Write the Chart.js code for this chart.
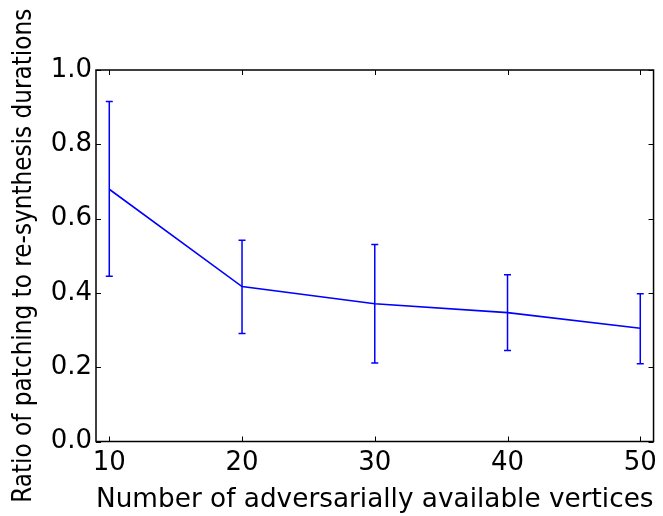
<!DOCTYPE html>
<html>
<head>
<meta charset="utf-8">
<script src="https://cdn.jsdelivr.net/npm/chart.js@4"></script>
<style>
  html, body { margin: 0; padding: 0; background: #fff; }
  #wrap { width: 663px; height: 516px; }
</style>
</head>
<body>
<div id="wrap"><canvas id="c" width="663" height="516"></canvas></div>
<script>
// Adversarially available vertices vs. patching/re-synthesis duration ratio
const vertices = [10, 20, 30, 40, 50];
const ratio = [0.679, 0.417, 0.371, 0.347, 0.305];
const errLow = [0.445, 0.291, 0.211, 0.245, 0.209];
const errHigh = [0.915, 0.542, 0.530, 0.449, 0.398];
const xTicks = [10, 20, 30, 40, 50];
const yTicks = [0.0, 0.2, 0.4, 0.6, 0.8, 1.0];

const BLUE = '#0000ff';
const FONT = 'DejaVu Sans';

// Error bars with caps
const errorBars = {
  id: 'errorBars',
  afterDatasetsDraw(chart) {
    const { ctx, scales: { x, y } } = chart;
    ctx.save();
    ctx.strokeStyle = BLUE;
    ctx.lineWidth = 1.5;
    vertices.forEach((v, i) => {
      const px = x.getPixelForValue(v);
      const top = y.getPixelForValue(errHigh[i]);
      const bot = y.getPixelForValue(errLow[i]);
      ctx.beginPath();
      ctx.moveTo(px, top); ctx.lineTo(px, bot);
      ctx.moveTo(px - 3.5, top); ctx.lineTo(px + 3.5, top);
      ctx.moveTo(px - 3.5, bot); ctx.lineTo(px + 3.5, bot);
      ctx.stroke();
    });
    ctx.restore();
  }
};

// Frame and inward tick marks on all four sides
const frame = {
  id: 'frame',
  afterDraw(chart) {
    const { ctx, chartArea: a, scales: { x, y } } = chart;
    const len = 5;
    ctx.save();
    ctx.strokeStyle = '#000';
    ctx.lineWidth = 1;
    ctx.beginPath();
    x.ticks.forEach(t => {
      const px = Math.round(x.getPixelForValue(t.value)) + 0.5;
      ctx.moveTo(px, a.bottom); ctx.lineTo(px, a.bottom - len);
      ctx.moveTo(px, a.top); ctx.lineTo(px, a.top + len);
    });
    y.ticks.forEach(t => {
      const py = Math.round(y.getPixelForValue(t.value)) + 0.5;
      ctx.moveTo(a.left, py); ctx.lineTo(a.left + len, py);
      ctx.moveTo(a.right, py); ctx.lineTo(a.right - len, py);
    });
    ctx.stroke();
    ctx.lineWidth = 1.5;
    ctx.strokeRect(a.left, a.top, a.right - a.left, a.bottom - a.top);
    ctx.restore();
  }
};

new Chart(document.getElementById('c'), {
  type: 'line',
  data: {
    datasets: [{
      data: vertices.map((v, i) => ({ x: v, y: ratio[i] })),
      borderColor: BLUE,
      borderWidth: 1.6,
      pointRadius: 0,
      fill: false,
      tension: 0
    }]
  },
  options: {
    responsive: false,
    animation: false,
    layout: { padding: { top: 70, right: 8, left: 0, bottom: 0 } },
    plugins: { legend: { display: false }, tooltip: { enabled: false } },
    scales: {
      x: {
        type: 'linear',
        min: 9, max: 51,
        afterBuildTicks: s => { s.ticks = xTicks.map(v => ({ value: v })); },
        afterFit: s => { s.height = 74.5; },
        grid: { display: false, drawTicks: false },
        border: { display: false },
        ticks: {
          color: '#000', padding: 6,
          font: { family: FONT, size: 26 },
          maxRotation: 0,
          callback: v => String(v)
        },
        title: {
          display: true,
          text: 'Number of adversarially available vertices',
          color: '#000',
          font: { family: FONT, size: 27.2 },
          padding: { top: 0, bottom: 0 }
        }
      },
      y: {
        min: 0, max: 1,
        afterBuildTicks: s => { s.ticks = yTicks.map(v => ({ value: v })); },
        afterFit: s => { s.width = 96; },
        grid: { display: false, drawTicks: false },
        border: { display: false },
        ticks: {
          color: '#000', padding: 4,
          font: { family: FONT, size: 26 },
          callback: v => Number(v).toFixed(1)
        },
        title: {
          display: true,
          text: 'Ratio of patching to re-synthesis durations',
          color: '#000',
          font: { family: 'DejaVu Sans Condensed', size: 25.8 },
          padding: { top: 9, bottom: 0 }
        }
      }
    }
  },
  plugins: [errorBars, frame]
});
</script>
</body>
</html>
